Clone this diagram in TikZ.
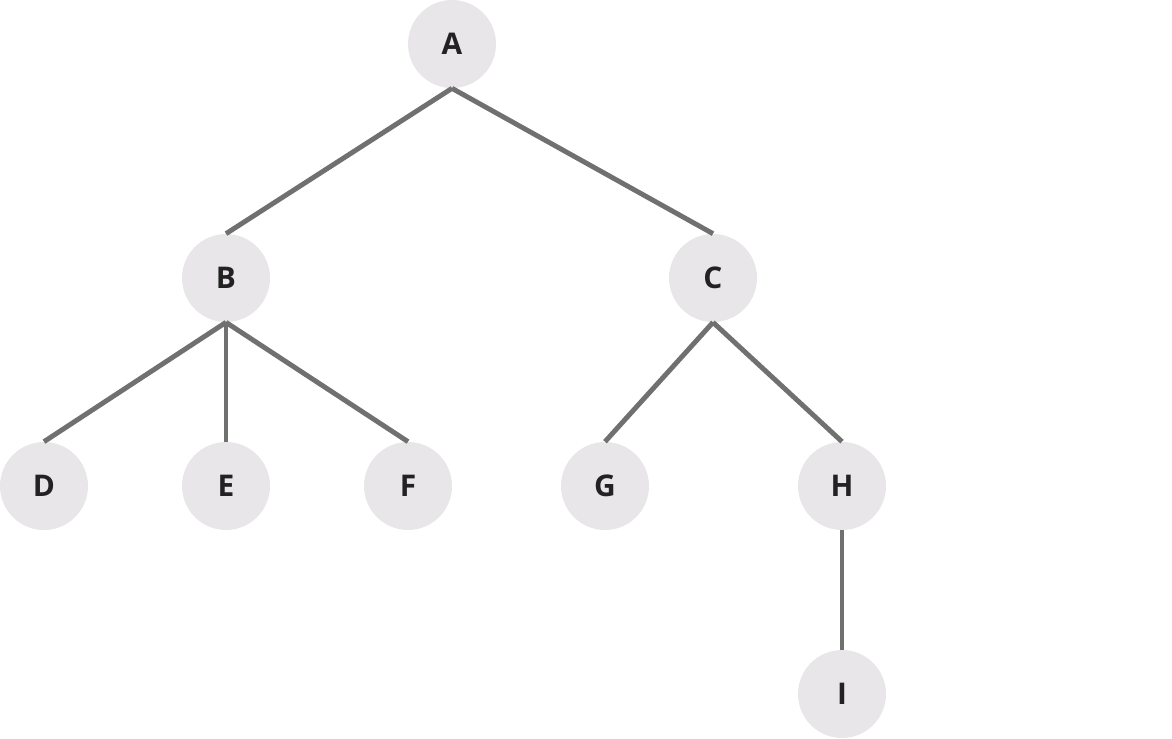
\documentclass[tikz,border=0pt]{standalone}
\usepackage{fontspec}
\setmainfont{Open Sans}
\usetikzlibrary{positioning}
\definecolor{nodegray}{HTML}{E8E6E8}
\definecolor{edgegray}{HTML}{707070}
\definecolor{textdark}{HTML}{222222}
\begin{document}
\begin{tikzpicture}[x=0.02cm,y=-0.02cm,every node/.style={circle,fill=nodegray,minimum size=1.76cm,inner sep=0pt,font=\bfseries\fontsize{17}{20}\selectfont,text=textdark}]
\useasboundingbox (0,0) rectangle (1172,738);
\node (a) at (452,44) {A};
\node (b) at (226,278) {B};
\node (c) at (713,278) {C};
\node (d) at (44,486) {D};
\node (e) at (226,486) {E};
\node (f) at (408,486) {F};
\node (g) at (605,486) {G};
\node (h) at (842,486) {H};
\node (i) at (842,694) {I};
\foreach \p/\q in {a/b,a/c,b/d,b/e,b/f,c/g,c/h,h/i} {\draw[edgegray,line width=2.8pt] (\p.south)--(\q.north);}
\end{tikzpicture}
\end{document}
